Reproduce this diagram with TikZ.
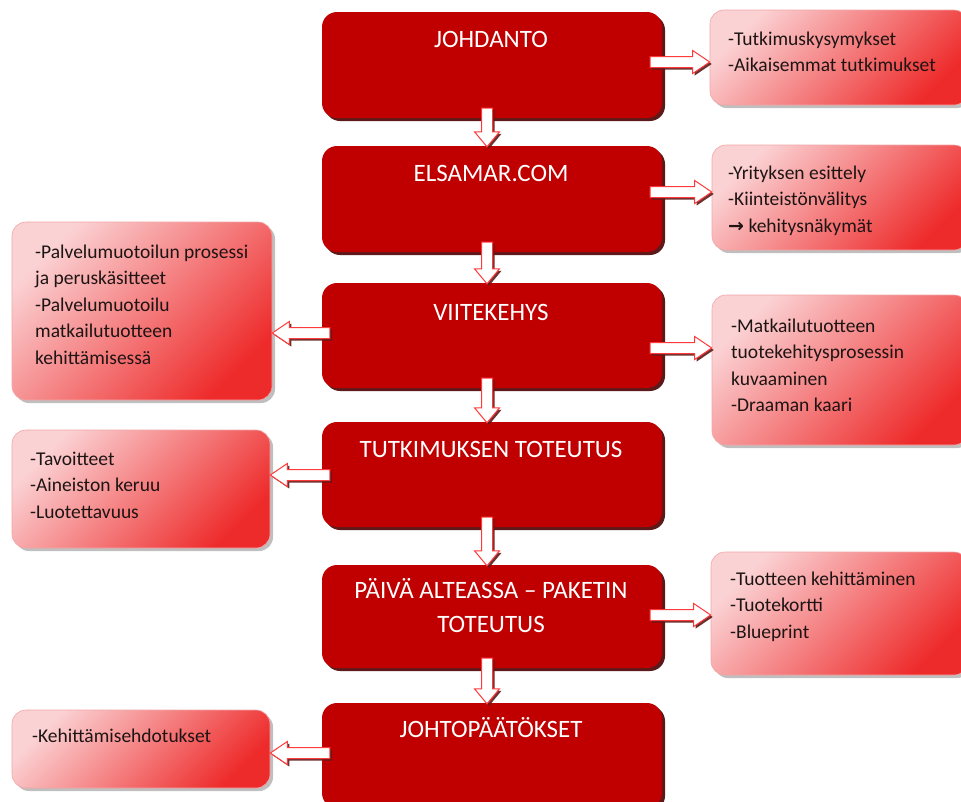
\documentclass[tikz,border=0pt]{standalone}
\usepackage{fontspec}
\setmainfont{Carlito}
\newfontfamily\arrowglyph{DejaVu Sans}
\usetikzlibrary{calc,shadows}
\definecolor{mainred}{HTML}{C00000}
\definecolor{mainshadow}{HTML}{5E1A1A}
\definecolor{sidelight}{HTML}{FBD2D4}
\definecolor{sidedark}{HTML}{EE2B2B}
\definecolor{sideborder}{HTML}{F2A6A8}
\definecolor{arrowred}{HTML}{FF3A3A}
\definecolor{sidetext}{HTML}{1E1414}
\tikzset{
  mainbox/.style={fill=mainred, rounded corners=15pt, minimum width=340pt, inner sep=0pt,
    drop shadow={shadow xshift=3pt, shadow yshift=-3pt, fill=mainshadow, opacity=1}},
  sidebox/.style={draw=sideborder, line width=0.6pt, rounded corners=14pt, inner sep=0pt,
    top color=sidelight, bottom color=sidedark, shading angle=45,
    drop shadow={shadow xshift=3pt, shadow yshift=-3pt, fill=black, opacity=0.25}},
  headtext/.style={text=white, font=\fontsize{25}{34}\selectfont, align=center, inner sep=0pt},
  sidetxt/.style={text=sidetext, font=\fontsize{19.5}{26.5}\selectfont, align=left, inner sep=0pt, anchor=base west},
  fatarrow/.style={draw=arrowred, fill=white, line width=1pt, line join=miter,
    drop shadow={shadow xshift=2pt, shadow yshift=-2pt, fill=mainshadow, opacity=0.9}}
}
\newcommand\dnarrow[2]{\draw[fatarrow] let \p1=(#1.south), \p2=(#2.north) in
  ({\x1-10.5pt},{\y1+10pt}) -- ({\x1+0.5pt},{\y1+10pt}) -- ({\x1+0.5pt},{\y2+14pt}) --
  ({\x1+7.5pt},{\y2+14pt}) -- ({\x1-5pt},{\y2-1pt}) -- ({\x1-17.5pt},{\y2+14pt}) --
  ({\x1-10.5pt},{\y2+14pt}) -- cycle;}
\newcommand\rtarrow[3]{\draw[fatarrow] let \p1=(#1.east), \p2=(#2.west) in
  ({\x1-12pt},{-#3pt+5.5pt}) -- ({\x2-17pt},{-#3pt+5.5pt}) -- ({\x2-17pt},{-#3pt+11.5pt}) --
  ({\x2},{-#3pt}) -- ({\x2-17pt},{-#3pt-11.5pt}) -- ({\x2-17pt},{-#3pt-5.5pt}) --
  ({\x1-12pt},{-#3pt-5.5pt}) -- cycle;}
\newcommand\lfarrow[3]{\draw[fatarrow] let \p1=(#1.west), \p2=(#2.east) in
  ({\x1+8pt},{-#3pt+5.5pt}) -- ({\x2+17pt},{-#3pt+5.5pt}) -- ({\x2+17pt},{-#3pt+11.5pt}) --
  ({\x2},{-#3pt}) -- ({\x2+17pt},{-#3pt-11.5pt}) -- ({\x2+17pt},{-#3pt-5.5pt}) --
  ({\x1+8pt},{-#3pt-5.5pt}) -- cycle;}
\begin{document}
\begin{tikzpicture}[x=1pt,y=-1pt]
\useasboundingbox (0,0) rectangle (961,801);
\clip (0,0) rectangle (961,801);
\fill[white] (0,0) rectangle (961,801);
% side boxes
\node[sidebox, minimum width=258pt, minimum height=95pt] (r1) at (839,57.5) {};
\node[sidebox, minimum width=256pt, minimum height=105pt] (r2) at (840,197.5) {};
\node[sidebox, minimum width=256pt, minimum height=150pt] (r3) at (840,370) {};
\node[sidebox, minimum width=257pt, minimum height=123pt] (r5) at (839.5,613.5) {};
\node[sidebox, minimum width=260pt, minimum height=178pt] (l3) at (142,311) {};
\node[sidebox, minimum width=258pt, minimum height=118pt] (l4) at (141,489) {};
\node[sidebox, minimum width=258pt, minimum height=78pt] (l6) at (141,749) {};
% main boxes
\node[mainbox, minimum height=106pt] (m1) at (492,65) {};
\node[mainbox, minimum height=106pt] (m2) at (492,199) {};
\node[mainbox, minimum height=105pt] (m3) at (492,335.5) {};
\node[mainbox, minimum height=105pt] (m4) at (492,474.5) {};
\node[mainbox, minimum height=103pt] (m5) at (492,616.5) {};
\node[mainbox, minimum height=105pt] (m6) at (492,755.5) {};
% headings (base = last line's baseline)
\node[headtext, anchor=base] (t1) at (491,47) {JOHDANTO};
\node[headtext, anchor=base] (t2) at (491,181) {ELSAMAR.COM};
\node[headtext, anchor=base] (t3) at (491,320) {VIITEKEHYS};
\node[headtext, anchor=base] (t4) at (491,457) {TUTKIMUKSEN TOTEUTUS};
\node[headtext, anchor=base] (t5) at (491,632) {PÄIVÄ ALTEASSA – PAKETIN\\TOTEUTUS};
\node[headtext, anchor=base] (t6) at (491,737) {JOHTOPÄÄTÖKSET};
% side texts (anchored at the baseline of their last line)
\node[sidetxt] (s1) at (728,71.5) {-Tutkimuskysymykset\\-Aikaisemmat tutkimukset};
\node[sidetxt] (s2) at (728,232) {-Yrityksen esittely\\-Kiinteistönvälitys\\{\arrowglyph\bfseries\fontsize{19}{26.5}\selectfont →} kehitysnäkymät};
\node[sidetxt] (s3) at (731,411.5) {-Matkailutuotteen\\tuotekehitysprosessin\\kuvaaminen\\-Draaman kaari};
\node[sidetxt] (s5) at (730,638) {-Tuotteen kehittäminen\\-Tuotekortti\\-Blueprint};
\node[sidetxt] (s3l) at (35,364) {-Palvelumuotoilun prosessi\\ja peruskäsitteet\\-Palvelumuotoilu\\matkailutuotteen\\kehittämisessä};
\node[sidetxt] (s4l) at (30,518) {-Tavoitteet\\-Aineiston keruu\\-Luotettavuus};
\node[sidetxt] (s6l) at (32,742) {-Kehittämisehdotukset};
% arrows
\dnarrow{m1}{m2}
\dnarrow{m2}{m3}
\dnarrow{m3}{m4}
\dnarrow{m4}{m5}
\dnarrow{m5}{m6}
\rtarrow{m1}{r1}{62}
\rtarrow{m2}{r2}{192}
\rtarrow{m3}{r3}{348}
\rtarrow{m5}{r5}{615}
\lfarrow{m3}{l3}{333}
\lfarrow{m4}{l4}{475}
\lfarrow{m6}{l6}{753}
\end{tikzpicture}
\end{document}
